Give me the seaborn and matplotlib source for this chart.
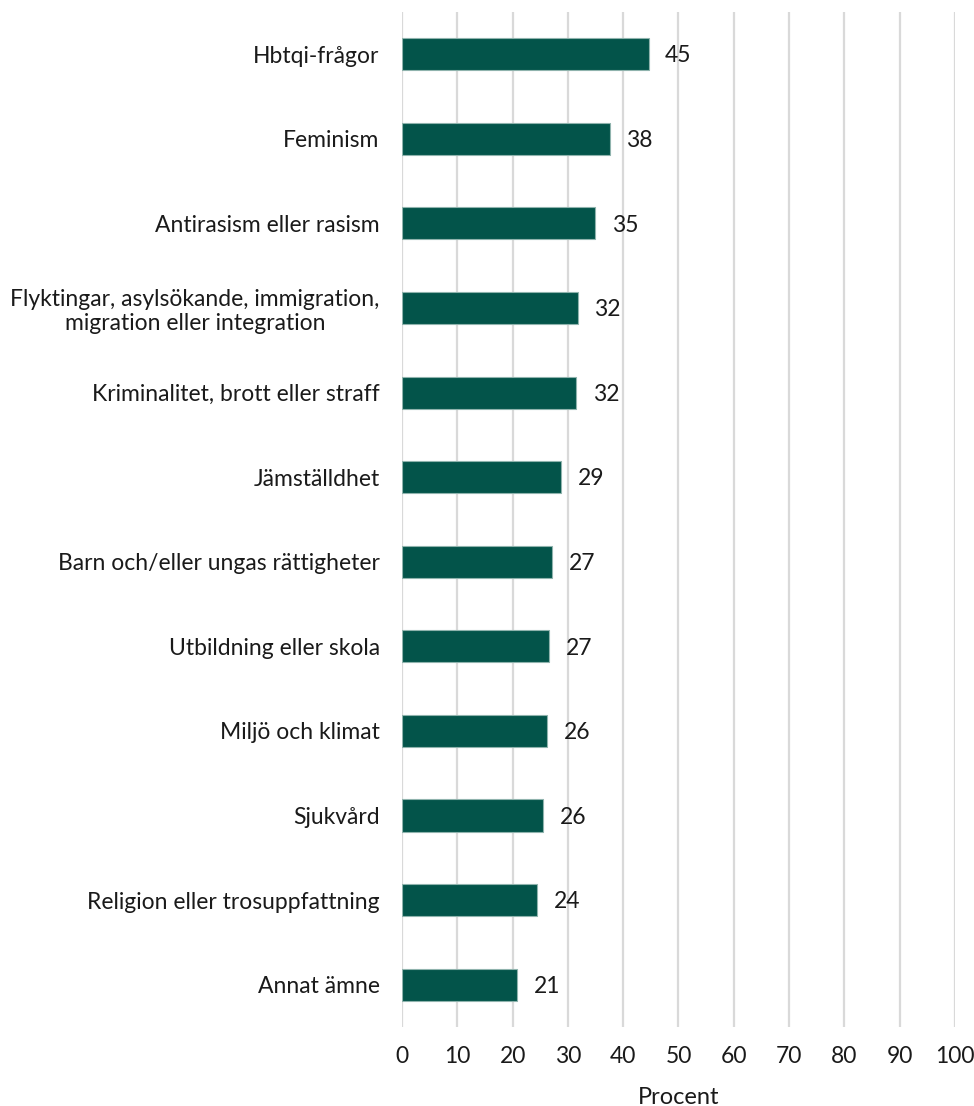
import matplotlib
matplotlib.use("Agg")
import matplotlib.pyplot as plt
import seaborn as sns
import pandas as pd

categories = [
    "Hbtqi-frågor",
    "Feminism",
    "Antirasism eller rasism",
    "Flyktingar, asylsökande, immigration,\nmigration eller integration",
    "Kriminalitet, brott eller straff",
    "Jämställdhet",
    "Barn och/eller ungas rättigheter",
    "Utbildning eller skola",
    "Miljö och klimat",
    "Sjukvård",
    "Religion eller trosuppfattning",
    "Annat ämne",
]
values = [44.6, 37.6, 34.9, 31.8, 31.5, 28.8, 27.1, 26.6, 26.2, 25.5, 24.4, 20.8]
xticks = [0, 10, 20, 30, 40, 50, 60, 70, 80, 90, 100]

sns.set_theme(style="white")
plt.rcParams["font.family"] = ["Lato", "DejaVu Sans"]

df = pd.DataFrame({"cat": categories, "val": values})

fig = plt.figure(figsize=(9.74, 11.06), dpi=100)
ax = fig.add_axes([0.4127, 0.0714, 0.9805 - 0.4127, 0.9892 - 0.0714])

sns.barplot(data=df, y="cat", x="val", orient="h", color="#03544a",
            saturation=1, width=0.38, edgecolor="#8fb3ad", linewidth=0.8,
            ax=ax, zorder=3)

for i, v in enumerate(values):
    ax.text(v + 3.0, i + 0.02, f"{round(v):d}", va="center", ha="left",
            fontsize=16.5, color="#1a1a1a")

ax.set_xlim(0, 100)
ax.set_ylim(len(categories) - 0.5, -0.5)
ax.set_xticks(xticks)
ax.set_xticklabels([str(t) for t in xticks])
ax.xaxis.grid(True, color="#d9d9d9", linewidth=1.6, zorder=0)
ax.yaxis.grid(False)
for s in ax.spines.values():
    s.set_visible(False)
ax.tick_params(axis="x", length=0, pad=14, labelsize=16.5, labelcolor="#1a1a1a")
ax.tick_params(axis="y", length=0, pad=16, labelsize=16.5, labelcolor="#1a1a1a")
for lbl in ax.get_yticklabels():
    lbl.set_multialignment("center")
ax.set_ylabel("")
ax.set_xlabel("Procent", fontsize=17, color="#1a1a1a", labelpad=14)

fig.savefig("out.png", dpi=100)
